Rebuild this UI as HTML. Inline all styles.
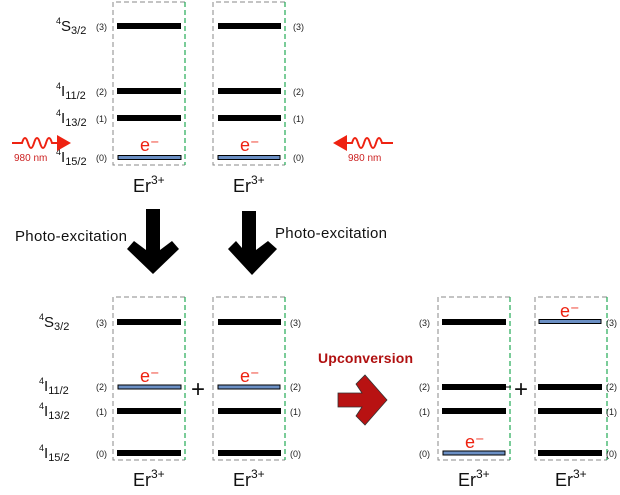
<!DOCTYPE html>
<html><head><style>body{margin:0;background:#fff}svg{display:block}text{font-family:"Liberation Sans",sans-serif}</style></head><body>
<svg width="620" height="495" viewBox="0 0 620 495" xmlns="http://www.w3.org/2000/svg">
<defs>
<g id="box">
<path d="M72,0 H0 V163 H72" fill="none" stroke="#888" stroke-width="1" stroke-dasharray="5,3"/>
<path d="M72,0 V163" fill="none" stroke="#22aa55" stroke-width="1.2" stroke-dasharray="5,3"/>
</g>
</defs>
<!-- top -->
<use href="#box" x="113" y="2"/><use href="#box" x="213" y="2"/>
<g fill="#000">
<rect x="117" y="23" width="64" height="6"/><rect x="117" y="88" width="64" height="6"/><rect x="117" y="115" width="64" height="6"/>
<rect x="218" y="23" width="63" height="6"/><rect x="218" y="88" width="63" height="6"/><rect x="218" y="115" width="63" height="6"/>
</g>
<rect x="118" y="155.5" width="63" height="4" fill="#6b8fc4" stroke="#000" stroke-width="1"/>
<rect x="218" y="155.5" width="62" height="4" fill="#6b8fc4" stroke="#000" stroke-width="1"/>
<g font-size="9" fill="#222">
<text x="96" y="30">(3)</text><text x="96" y="95">(2)</text><text x="96" y="122">(1)</text><text x="96" y="161">(0)</text>
<text x="293" y="30">(3)</text><text x="293" y="95">(2)</text><text x="293" y="122">(1)</text><text x="293" y="161">(0)</text>
</g>
<g font-size="15" fill="#111">
<text x="56" y="31"><tspan font-size="9" dy="-7">4</tspan><tspan dy="7">S</tspan><tspan font-size="11" dy="3">3/2</tspan></text>
<text x="56" y="96"><tspan font-size="9" dy="-7">4</tspan><tspan dy="7">I</tspan><tspan font-size="11" dy="3">11/2</tspan></text>
<text x="56" y="123"><tspan font-size="9" dy="-7">4</tspan><tspan dy="7">I</tspan><tspan font-size="11" dy="3">13/2</tspan></text>
<text x="56" y="162"><tspan font-size="9" dy="-7">4</tspan><tspan dy="7">I</tspan><tspan font-size="11" dy="3">15/2</tspan></text>
</g>
<g font-size="18" fill="#e21">
<text x="140" y="151">e⁻</text><text x="240" y="151">e⁻</text>
</g>
<g font-size="18" fill="#111">
<text x="133" y="192">Er<tspan font-size="12" dy="-8">3+</tspan></text>
<text x="233" y="192">Er<tspan font-size="12" dy="-8">3+</tspan></text>
</g>
<!-- 980 nm arrows -->
<path d="M12,143 H22 Q25,133 28,143 T34,143 T40,143 T46,143 T52,143 H58" fill="none" stroke="#e21" stroke-width="2"/>
<polygon points="57,135 71,143 57,151" fill="#e21"/>
<text x="14" y="161" font-size="10" fill="#c22">980 nm</text>
<path d="M346,143 H352 Q355,133 358,143 T364,143 T370,143 T376,143 T382,143 H393" fill="none" stroke="#e21" stroke-width="2"/>
<polygon points="347,135 333,143 347,151" fill="#e21"/>
<text x="348" y="161" font-size="10" fill="#c22">980 nm</text>
<!-- black arrows -->
<polygon points="146,209 160,209 160,250 172,241 179,249 153,274 127,249 134,241 146,250" fill="#000"/>
<polygon points="242,211 256,211 256,250 268,241 277,249 252,275 228,249 236,241 242,248" fill="#000"/>
<text x="15" y="241" font-size="15" fill="#111" textLength="112">Photo-excitation</text>
<text x="275" y="238" font-size="15" fill="#111" textLength="112">Photo-excitation</text>
<!-- bottom -->
<use href="#box" x="113" y="297"/><use href="#box" x="213" y="297"/>
<use href="#box" x="438" y="297"/><use href="#box" x="535" y="297"/>
<g fill="#000">
<rect x="117" y="319" width="64" height="6"/><rect x="117" y="408" width="64" height="6"/><rect x="117" y="450" width="64" height="6"/>
<rect x="218" y="319" width="63" height="6"/><rect x="218" y="408" width="63" height="6"/><rect x="218" y="450" width="63" height="6"/>
<rect x="442" y="319" width="64" height="6"/><rect x="442" y="384" width="64" height="6"/><rect x="442" y="408" width="64" height="6"/>
<rect x="538" y="384" width="64" height="6"/><rect x="538" y="408" width="64" height="6"/><rect x="538" y="450" width="64" height="6"/>
</g>
<rect x="118" y="385" width="63" height="4" fill="#6b8fc4" stroke="#000"/>
<rect x="218" y="385" width="62" height="4" fill="#6b8fc4" stroke="#000"/>
<rect x="443" y="451" width="62" height="4" fill="#6b8fc4" stroke="#000"/>
<rect x="539" y="319.5" width="62" height="4" fill="#6b8fc4" stroke="#000"/>
<g font-size="9" fill="#222">
<text x="96" y="326">(3)</text><text x="96" y="390">(2)</text><text x="96" y="415">(1)</text><text x="96" y="457">(0)</text>
<text x="290" y="326">(3)</text><text x="290" y="390">(2)</text><text x="290" y="415">(1)</text><text x="290" y="457">(0)</text>
<text x="419" y="326">(3)</text><text x="419" y="390">(2)</text><text x="419" y="415">(1)</text><text x="419" y="457">(0)</text>
<text x="606" y="326">(3)</text><text x="606" y="390">(2)</text><text x="606" y="415">(1)</text><text x="606" y="457">(0)</text>
</g>
<g font-size="15" fill="#111">
<text x="39" y="327"><tspan font-size="9" dy="-7">4</tspan><tspan dy="7">S</tspan><tspan font-size="11" dy="3">3/2</tspan></text>
<text x="39" y="391"><tspan font-size="9" dy="-7">4</tspan><tspan dy="7">I</tspan><tspan font-size="11" dy="3">11/2</tspan></text>
<text x="39" y="416"><tspan font-size="9" dy="-7">4</tspan><tspan dy="7">I</tspan><tspan font-size="11" dy="3">13/2</tspan></text>
<text x="39" y="458"><tspan font-size="9" dy="-7">4</tspan><tspan dy="7">I</tspan><tspan font-size="11" dy="3">15/2</tspan></text>
</g>
<g font-size="18" fill="#e21">
<text x="140" y="382">e⁻</text><text x="240" y="382">e⁻</text>
<text x="465" y="448">e⁻</text><text x="560" y="317">e⁻</text>
</g>
<g font-size="24" fill="#111"><text x="191" y="397">+</text><text x="514" y="397">+</text></g>
<line x1="506" y1="387" x2="511" y2="387" stroke="#111" stroke-width="1"/>
<g font-size="18" fill="#111">
<text x="133" y="486">Er<tspan font-size="12" dy="-8">3+</tspan></text>
<text x="233" y="486">Er<tspan font-size="12" dy="-8">3+</tspan></text>
<text x="458" y="486">Er<tspan font-size="12" dy="-8">3+</tspan></text>
<text x="555" y="486">Er<tspan font-size="12" dy="-8">3+</tspan></text>
</g>
<text x="318" y="363" font-size="14" font-weight="bold" fill="#b01010" textLength="95">Upconversion</text>
<polygon points="338,393 362,393 356,384 365,375 387,400 365,425 356,416 362,407 338,407" fill="#b81212" stroke="#333" stroke-width="0.8"/>
</svg>
</body></html>
